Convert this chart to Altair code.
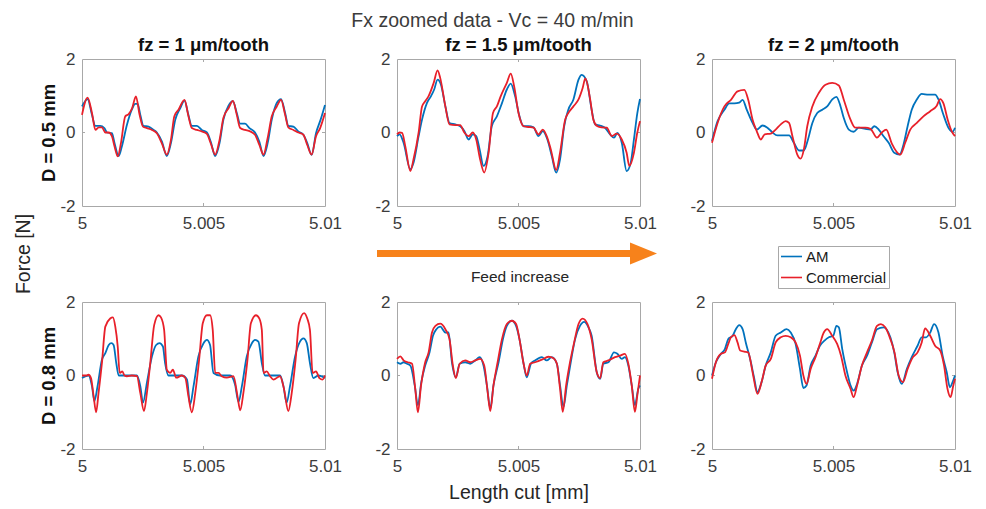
import altair as alt
import pandas as pd

# ---------------- data ----------------
series_names = ["AM", "Commercial"]
series_colors = ["#0072BD", "#E8202A"]

x_ticks = [5.0, 5.005, 5.01]
y_ticks = [-2, 0, 2]
col_titles = ["fz = 1 \u03bcm/tooth", "fz = 1.5 \u03bcm/tooth", "fz = 2 \u03bcm/tooth"]
row_titles = ["D = 0.5 mm", "D = 0.8 mm"]

# D = 0.5 mm, fz = 1
p1_am_x = [5.0, 5.00023, 5.00041, 5.00055, 5.00075, 5.00092, 5.00103, 5.00123, 5.00134, 5.00151, 5.00164, 5.00185, 5.00205, 5.00219, 5.00229, 5.0024, 5.00253, 5.00274, 5.00295, 5.00308, 5.00329, 5.00349, 5.00366, 5.00384, 5.00404, 5.00422, 5.00436, 5.00452, 5.00473, 5.00493, 5.00514, 5.0053, 5.00548, 5.00566, 5.00582, 5.00603, 5.00621, 5.00637, 5.00651, 5.00671, 5.00689, 5.00712, 5.0073, 5.00747, 5.00764, 5.00781, 5.00801, 5.00819, 5.00836, 5.00849, 5.0087, 5.0089, 5.00911, 5.00927, 5.00945, 5.00963, 5.00982, 5.01]
p1_am_y = [0.71, 0.91, 0.48, 0.18, 0.18, 0.12, 0, -0.02, -0.29, -0.64, -0.38, 0.21, 0.62, 0.78, 0.78, 0.48, 0.18, 0.16, 0.07, 0, -0.25, -0.64, -0.29, 0.35, 0.66, 0.87, 0.53, 0.18, 0.18, 0.07, 0, -0.25, -0.64, -0.29, 0.35, 0.73, 0.85, 0.53, 0.24, 0.24, 0.12, 0, -0.25, -0.64, -0.29, 0.35, 0.8, 0.91, 0.53, 0.18, 0.16, 0.03, -0.06, -0.29, -0.61, -0.02, 0.35, 0.75]
p1_cm_x = [5.0, 5.00023, 5.00041, 5.00055, 5.00069, 5.00082, 5.00096, 5.0011, 5.00123, 5.00134, 5.00147, 5.0016, 5.00178, 5.00192, 5.00206, 5.00222, 5.00237, 5.00251, 5.00267, 5.00288, 5.00308, 5.00329, 5.00349, 5.00366, 5.0038, 5.00397, 5.00422, 5.00438, 5.00452, 5.00473, 5.00493, 5.00514, 5.0053, 5.00548, 5.00566, 5.00582, 5.00603, 5.00621, 5.00637, 5.00651, 5.00671, 5.00692, 5.00712, 5.0073, 5.00747, 5.00764, 5.00781, 5.00801, 5.00819, 5.00836, 5.00849, 5.0087, 5.0089, 5.00911, 5.00927, 5.00945, 5.00963, 5.0098, 5.01]
p1_cm_y = [0.48, 0.95, 0.53, 0.07, 0.14, 0.14, 0.0, 0.0, -0.1, -0.38, -0.65, -0.3, 0.44, 0.5, 0.66, 0.98, 0.48, 0.16, 0.12, 0.07, -0.02, -0.3, -0.6, -0.2, 0.44, 0.62, 0.89, 0.44, 0.12, 0.07, 0.03, -0.04, -0.3, -0.6, -0.2, 0.4, 0.66, 0.86, 0.48, 0.12, 0.07, 0.03, -0.06, -0.34, -0.6, -0.15, 0.44, 0.7, 0.89, 0.48, 0.14, 0.07, 0.0, -0.06, -0.34, -0.6, -0.1, 0.12, 0.53]

# D = 0.5 mm, fz = 1.5
p2_am_x = [5.0, 5.00011, 5.00027, 5.00055, 5.00068, 5.00089, 5.00103, 5.00123, 5.0014, 5.00153, 5.00167, 5.00181, 5.00199, 5.00216, 5.0024, 5.0026, 5.00277, 5.00295, 5.00312, 5.00326, 5.0034, 5.00356, 5.00373, 5.0039, 5.00411, 5.00432, 5.00452, 5.00468, 5.00486, 5.00504, 5.00521, 5.00541, 5.00562, 5.00582, 5.006, 5.00619, 5.00637, 5.00655, 5.00671, 5.00688, 5.00705, 5.00726, 5.00747, 5.0076, 5.00781, 5.00801, 5.00815, 5.00836, 5.00856, 5.00877, 5.00893, 5.00907, 5.00925, 5.00945, 5.00962, 5.00975, 5.00989, 5.01]
p2_am_y = [-0.1, -0.05, -0.28, -1.0, -0.82, -0.1, 0.35, 0.8, 0.99, 1.17, 1.44, 1.3, 0.71, 0.26, 0.22, 0.17, 0.04, -0.19, -0.05, -0.1, -0.46, -0.91, -0.64, 0.17, 0.44, 0.8, 1.17, 1.33, 0.99, 0.44, 0.17, 0.17, 0.14, -0.1, 0.04, -0.19, -0.64, -1.09, -0.73, 0.17, 0.62, 0.9, 1.44, 1.57, 1.39, 0.62, 0.22, 0.19, 0.13, -0.05, -0.14, -0.01, -0.28, -1.05, -0.82, -0.19, 0.53, 0.91]
p2_cm_x = [5.0, 5.00011, 5.00021, 5.00034, 5.00055, 5.00068, 5.00089, 5.00103, 5.00116, 5.0013, 5.00151, 5.00167, 5.00178, 5.00199, 5.00216, 5.0024, 5.0026, 5.00277, 5.00295, 5.00312, 5.00326, 5.00342, 5.00359, 5.00377, 5.00395, 5.00411, 5.00427, 5.00452, 5.00468, 5.00482, 5.005, 5.00521, 5.00541, 5.00562, 5.00582, 5.006, 5.00616, 5.00633, 5.00655, 5.00671, 5.00692, 5.00705, 5.00726, 5.00747, 5.00764, 5.00775, 5.00795, 5.00808, 5.00825, 5.00842, 5.00863, 5.00884, 5.00904, 5.00925, 5.00945, 5.00956, 5.00975, 5.00989, 5.01]
p2_cm_y = [-0.05, 0.0, -0.01, -0.37, -1.05, -0.73, 0.0, 0.71, 0.85, 0.99, 1.35, 1.69, 1.48, 0.71, 0.22, 0.2, 0.2, 0.0, -0.1, 0.0, -0.19, -0.73, -1.09, -0.55, 0.53, 0.71, 0.99, 1.35, 1.6, 1.26, 0.53, 0.17, 0.15, 0.13, -0.05, 0.08, -0.1, -0.46, -1.02, -0.55, 0.35, 0.53, 0.71, 0.9, 1.21, 1.47, 0.9, 0.35, 0.17, 0.14, 0.13, -0.1, -0.03, -0.19, -0.55, -0.91, -0.55, 0.0, 0.31]

# D = 0.5 mm, fz = 2
p3_am_x = [5.0, 5.00023, 5.00051, 5.00071, 5.00092, 5.00112, 5.00126, 5.00143, 5.00167, 5.00184, 5.00208, 5.00228, 5.00249, 5.00269, 5.00296, 5.00317, 5.00337, 5.00358, 5.00378, 5.00395, 5.00413, 5.00433, 5.00454, 5.00474, 5.00495, 5.00512, 5.00529, 5.00542, 5.00563, 5.00583, 5.00604, 5.00631, 5.00652, 5.00668, 5.00686, 5.00706, 5.00727, 5.0075, 5.00772, 5.00788, 5.00805, 5.00822, 5.00843, 5.00863, 5.00891, 5.00918, 5.00932, 5.00952, 5.00973, 5.0099, 5.01]
p3_am_y = [-0.23, 0.31, 0.62, 0.79, 0.79, 0.81, 0.89, 0.62, 0.26, 0.08, 0.19, 0.13, 0.0, -0.08, -0.08, -0.08, -0.28, -0.49, -0.49, -0.19, 0.26, 0.53, 0.62, 0.71, 0.9, 0.97, 0.71, 0.4, 0.08, 0.02, 0.13, 0.1, 0.08, 0.17, 0.08, -0.1, -0.28, -0.55, -0.6, -0.33, 0.17, 0.62, 0.9, 1.05, 1.03, 1.03, 0.9, 0.49, 0.13, 0.02, 0.13]
p3_cm_x = [5.0, 5.00023, 5.00051, 5.00078, 5.00105, 5.00133, 5.00149, 5.00167, 5.00184, 5.00201, 5.00217, 5.00242, 5.00262, 5.00283, 5.00303, 5.00317, 5.00331, 5.00351, 5.00365, 5.00378, 5.00392, 5.00413, 5.0044, 5.00467, 5.00495, 5.00522, 5.00542, 5.0057, 5.0059, 5.00611, 5.00631, 5.00652, 5.00679, 5.00699, 5.00717, 5.0074, 5.00775, 5.00795, 5.00816, 5.00843, 5.0087, 5.00898, 5.00925, 5.00939, 5.00952, 5.0097, 5.00986, 5.01]
p3_cm_y = [-0.28, 0.26, 0.71, 0.89, 1.12, 1.16, 0.89, 0.35, 0.04, -0.19, -0.05, -0.03, 0.08, 0.22, 0.31, 0.26, -0.1, -0.6, -0.71, -0.46, 0.17, 0.71, 1.08, 1.3, 1.35, 1.28, 0.9, 0.35, 0.13, 0.13, 0.13, 0.1, -0.14, 0.0, 0.08, -0.3, -0.6, -0.28, 0.08, 0.26, 0.44, 0.58, 0.73, 0.91, 0.8, 0.35, 0.04, -0.1]

# D = 0.8 mm, fz = 1
p4_am_x = [5.0, 5.00027, 5.00041, 5.00051, 5.00064, 5.00082, 5.00096, 5.0011, 5.00121, 5.0013, 5.00141, 5.00151, 5.00171, 5.00199, 5.00226, 5.0024, 5.00251, 5.00267, 5.00288, 5.00305, 5.00319, 5.00333, 5.00342, 5.00356, 5.00384, 5.00411, 5.00432, 5.00445, 5.00459, 5.00479, 5.005, 5.00514, 5.00527, 5.00541, 5.00568, 5.0061, 5.0063, 5.00644, 5.00658, 5.00678, 5.00699, 5.00712, 5.00726, 5.0074, 5.00753, 5.00788, 5.00815, 5.00829, 5.00842, 5.00856, 5.00877, 5.00897, 5.00911, 5.00925, 5.00938, 5.00952, 5.00973, 5.01]
p4_am_y = [-0.07, 0.0, -0.29, -0.7, -0.29, 0.43, 0.61, 0.83, 0.88, 0.83, 0.34, 0.0, 0.0, 0.0, 0.0, -0.29, -0.74, -0.2, 0.52, 0.83, 0.88, 0.79, 0.34, 0.0, 0.0, 0.0, -0.11, -0.79, -0.29, 0.52, 0.88, 0.97, 0.83, 0.07, 0.0, 0.0, -0.25, -0.72, -0.29, 0.52, 0.88, 0.97, 0.92, 0.34, 0.0, 0.0, 0.0, -0.29, -0.74, -0.29, 0.52, 0.92, 1.01, 0.88, 0.34, -0.07, 0.0, -0.07]
p4_cm_x = [5.0, 5.00018, 5.00027, 5.00037, 5.00048, 5.00058, 5.00068, 5.00082, 5.00096, 5.00116, 5.00127, 5.00137, 5.00147, 5.00155, 5.00166, 5.00175, 5.00185, 5.00205, 5.00226, 5.0024, 5.00255, 5.00267, 5.00281, 5.00297, 5.00315, 5.00325, 5.00338, 5.00349, 5.00363, 5.00374, 5.00388, 5.00411, 5.00425, 5.00438, 5.00452, 5.00466, 5.00482, 5.00497, 5.00514, 5.00527, 5.00538, 5.00548, 5.00562, 5.00575, 5.00596, 5.00623, 5.0064, 5.00651, 5.00664, 5.00681, 5.00695, 5.00716, 5.0073, 5.0074, 5.00747, 5.0076, 5.00774, 5.00788, 5.00815, 5.00832, 5.00849, 5.00863, 5.00879, 5.00893, 5.00914, 5.00927, 5.00938, 5.00949, 5.00963, 5.00977, 5.0099, 5.01]
p4_cm_y = [0.0, 0.0, 0.02, -0.07, -0.57, -1.0, -0.48, 0.34, 1.33, 1.55, 1.58, 1.33, 0.79, 0.07, 0.11, 0.0, -0.02, 0.0, -0.02, -0.48, -0.97, -0.48, 0.34, 1.37, 1.64, 1.58, 1.24, 0.16, 0.07, 0.16, -0.06, 0.0, -0.06, -0.57, -1.0, -0.48, 0.43, 1.42, 1.64, 1.64, 1.24, 0.07, 0.07, -0.02, -0.06, -0.02, -0.57, -0.95, -0.48, 0.43, 1.42, 1.64, 1.55, 1.24, 0.07, 0.11, -0.02, -0.11, -0.02, -0.39, -0.97, -0.48, 0.43, 1.42, 1.7, 1.55, 1.24, 0.07, 0.11, -0.07, -0.11, 0.0]

# D = 0.8 mm, fz = 1.5
p5_am_x = [5.0, 5.00014, 5.00027, 5.00041, 5.00055, 5.00073, 5.00086, 5.001, 5.00116, 5.00134, 5.00148, 5.00162, 5.00178, 5.00199, 5.00212, 5.00226, 5.00242, 5.00258, 5.00281, 5.00301, 5.00322, 5.0034, 5.00356, 5.0037, 5.00384, 5.00397, 5.00418, 5.00436, 5.00452, 5.00473, 5.0049, 5.00504, 5.00521, 5.00534, 5.00551, 5.00568, 5.00596, 5.00616, 5.00637, 5.00658, 5.00671, 5.00685, 5.00699, 5.00715, 5.00733, 5.00753, 5.0077, 5.00788, 5.00801, 5.00822, 5.00836, 5.00849, 5.0087, 5.00893, 5.00907, 5.00925, 5.00938, 5.00952, 5.00966, 5.00979, 5.00993, 5.01]
p5_am_y = [0.36, 0.32, 0.36, 0.32, 0.27, -0.27, -0.81, -0.18, 0.27, 0.63, 1.08, 1.26, 1.33, 1.17, 1.17, 0.36, -0.05, 0.32, 0.36, 0.32, 0.41, 0.5, 0.27, -0.27, -0.9, -0.27, 0.36, 0.99, 1.35, 1.49, 1.35, 0.99, 0.32, -0.05, 0.32, 0.41, 0.5, 0.41, 0.5, 0.32, -0.27, -0.86, -0.27, 0.36, 0.99, 1.35, 1.46, 1.31, 1.08, 0.09, -0.09, 0.32, 0.36, 0.63, 0.59, 0.45, 0.5, 0.27, -0.27, -0.81, -0.36, -0.27]
p5_cm_x = [5.0, 5.00014, 5.00027, 5.00044, 5.00062, 5.00075, 5.00086, 5.00099, 5.00116, 5.0013, 5.00144, 5.00158, 5.00178, 5.00199, 5.00216, 5.0023, 5.00242, 5.00258, 5.00281, 5.00301, 5.00322, 5.00342, 5.00359, 5.00373, 5.00384, 5.00397, 5.00414, 5.00432, 5.00452, 5.00473, 5.0049, 5.00504, 5.00521, 5.00534, 5.00548, 5.00568, 5.00596, 5.00623, 5.00644, 5.00658, 5.00671, 5.00682, 5.00696, 5.00712, 5.00729, 5.00747, 5.00764, 5.00784, 5.00801, 5.00822, 5.00836, 5.00849, 5.0087, 5.00897, 5.00918, 5.00938, 5.00952, 5.00966, 5.00979, 5.00989, 5.01]
p5_cm_y = [0.45, 0.52, 0.41, 0.36, 0.32, -0.36, -1.0, -0.27, 0.36, 0.63, 1.17, 1.35, 1.41, 1.26, 0.99, 0.27, -0.07, 0.32, 0.41, 0.36, 0.41, 0.45, 0.27, -0.45, -0.97, -0.27, 0.36, 0.99, 1.4, 1.49, 1.4, 0.99, 0.32, 0.0, 0.32, 0.36, 0.43, 0.51, 0.47, 0.32, -0.36, -0.99, -0.27, 0.36, 0.9, 1.4, 1.55, 1.4, 0.99, 0.09, -0.07, 0.36, 0.41, 0.5, 0.54, 0.59, 0.32, -0.27, -0.99, -0.54, 0.0]

# D = 0.8 mm, fz = 2
p6_am_x = [5.0, 5.00016, 5.00037, 5.00053, 5.00067, 5.00085, 5.00098, 5.00112, 5.00126, 5.00139, 5.0016, 5.00173, 5.00187, 5.00204, 5.00221, 5.00242, 5.00262, 5.00283, 5.00307, 5.00324, 5.00344, 5.00362, 5.00376, 5.00389, 5.00406, 5.00426, 5.00444, 5.00463, 5.00481, 5.00499, 5.00512, 5.00522, 5.00536, 5.00556, 5.0057, 5.00583, 5.00597, 5.00617, 5.00638, 5.00658, 5.00679, 5.00706, 5.00734, 5.0075, 5.00764, 5.00781, 5.00802, 5.00822, 5.00846, 5.00863, 5.00881, 5.00898, 5.00914, 5.00932, 5.00949, 5.00966, 5.00979, 5.0099, 5.01]
p6_am_y = [0.0, 0.36, 0.59, 0.72, 0.99, 1.08, 1.26, 1.37, 1.26, 0.9, 0.36, -0.05, -0.45, -0.18, 0.27, 0.63, 1.08, 1.17, 1.26, 1.17, 0.86, 0.18, -0.34, -0.27, 0.27, 0.54, 0.81, 0.95, 1.04, 1.08, 1.35, 1.31, 0.72, 0.09, -0.27, -0.41, -0.23, 0.27, 0.54, 0.9, 1.26, 1.31, 1.04, 0.63, 0.09, -0.23, 0.18, 0.5, 0.81, 1.04, 1.04, 1.17, 1.4, 1.17, 0.54, 0.09, -0.32, -0.18, 0.0]
p6_cm_x = [5.0, 5.00016, 5.00037, 5.00053, 5.00067, 5.00078, 5.00092, 5.00105, 5.00116, 5.00133, 5.00149, 5.00167, 5.00187, 5.00204, 5.00221, 5.00242, 5.00262, 5.00283, 5.00303, 5.00324, 5.00344, 5.00362, 5.00376, 5.00389, 5.00406, 5.00426, 5.00444, 5.0046, 5.00474, 5.00495, 5.00515, 5.00531, 5.00549, 5.0057, 5.00583, 5.00597, 5.00617, 5.00638, 5.00658, 5.00679, 5.00695, 5.00713, 5.00734, 5.00751, 5.00768, 5.00786, 5.00805, 5.00827, 5.00846, 5.00863, 5.00877, 5.00898, 5.00918, 5.00939, 5.00955, 5.00969, 5.00982, 5.00993, 5.01]
p6_cm_y = [-0.09, 0.36, 0.59, 0.63, 0.86, 1.04, 1.1, 0.9, 0.68, 0.65, 0.63, 0.09, -0.5, -0.18, 0.27, 0.45, 0.9, 1.04, 1.08, 1.04, 0.9, 0.54, 0.0, -0.23, 0.18, 0.5, 0.86, 1.17, 1.26, 1.08, 0.86, 0.54, 0.0, -0.36, -0.59, -0.27, 0.27, 0.63, 0.95, 1.35, 1.4, 1.31, 0.99, 0.63, 0.0, -0.18, 0.18, 0.5, 0.63, 0.9, 1.28, 1.08, 0.81, 0.68, 0.27, -0.36, -0.59, -0.27, -0.09]

main_title = "Fx zoomed data - Vc = 40 m/min"
y_label = "Force [N]"
x_label = "Length cut [mm]"
arrow_label = "Feed increase"

# ---------------- styling ----------------
FONT = "Liberation Sans"
AX = "#a8a8a8"
TXT = "#3c3c3c"
ORANGE = "#F7821B"
W, H = 243, 147
GAP_X, GAP_Y = 72, 96

color_scale = alt.Scale(domain=series_names, range=series_colors)
legend = alt.Legend(orient="none", legendX=696, legendY=187, title=None,
                    symbolType="M -1.4 0 L 1.4 0", symbolSize=225, symbolStrokeWidth=1.6,
                    symbolOffset=3, labelOffset=6,
                    labelFontSize=15, labelColor="#1a1a1a", labelFont=FONT,
                    strokeColor=AX, fillColor="white", padding=2, rowPadding=4,
                    labelLimit=200)


def panel(am_x, am_y, cm_x, cm_y, title=None, row_label=None, x_title=None, extra=()):
    df = pd.DataFrame({
        "x": am_x + cm_x,
        "y": am_y + cm_y,
        "series": [series_names[0]] * len(am_x) + [series_names[1]] * len(cm_x),
    })
    xaxis_kw = dict(values=x_ticks, labelExpr="toString(datum.value)", domain=False,
                    ticks=False, tickSize=0, grid=False, labelFlush=False,
                    labelOverlap=False, labelPadding=9, labelFontSize=17,
                    labelColor=TXT, labelFont=FONT)
    if x_title:
        xaxis_kw.update(title=x_title, titleX=W / 2, titleY=43, titleBaseline="middle",
                        titleAlign="center", titleFontSize=19.5, titleFontWeight="normal",
                        titleColor="#262626", titleFont=FONT)
    else:
        xaxis_kw.update(title=None)
    yaxis_kw = dict(values=y_ticks, labelExpr="toString(datum.value)", domain=False,
                    ticks=False, tickSize=0, grid=False, labelFlush=False,
                    labelOverlap=False, labelPadding=7, labelFontSize=17,
                    labelColor=TXT, labelFont=FONT)
    if row_label:
        yaxis_kw.update(title=row_label, titleX=-34, titleY=H / 2, titleAngle=270,
                        titleBaseline="middle", titleAlign="center", titleFontSize=18.5,
                        titleFontWeight="bold", titleColor="#111111", titleFont=FONT)
    else:
        yaxis_kw.update(title=None)
    X = alt.X("x:Q", scale=alt.Scale(domain=[5.0, 5.01], nice=False, zero=False),
              axis=alt.Axis(**xaxis_kw))
    Y = alt.Y("y:Q", scale=alt.Scale(domain=[-2, 2], nice=False), axis=alt.Axis(**yaxis_kw))

    lines = alt.Chart(df).mark_line(strokeWidth=1.8, interpolate="monotone").encode(
        x=X, y=Y,
        color=alt.Color("series:N", scale=color_scale, legend=legend),
    )
    tdf_x = pd.DataFrame({"x": [x_ticks[1]]})
    tdf_y = pd.DataFrame({"y": [y_ticks[1]]})
    t_top = alt.Chart(tdf_x).mark_rule(color=AX, strokeWidth=1).encode(x=X, y=alt.value(0), y2=alt.value(3))
    t_bot = alt.Chart(tdf_x).mark_rule(color=AX, strokeWidth=1).encode(x=X, y=alt.value(H - 3), y2=alt.value(H))
    t_lef = alt.Chart(tdf_y).mark_rule(color=AX, strokeWidth=1).encode(y=Y, x=alt.value(0), x2=alt.value(3))
    t_rig = alt.Chart(tdf_y).mark_rule(color=AX, strokeWidth=1).encode(y=Y, x=alt.value(W - 3), x2=alt.value(W))
    ch = alt.layer(t_top, t_bot, t_lef, t_rig, lines, *extra).properties(width=W, height=H)
    if title:
        ch = ch.properties(title=alt.TitleParams(title, fontSize=18.5, fontWeight="bold",
                                                 color="#111111", font=FONT, anchor="middle",
                                                 frame="group", offset=-4))
    return ch


# annotations between the two rows (positioned relative to the lower panels)
cap_df = pd.DataFrame({"t": [arrow_label]})
shaft = alt.Chart(cap_df).mark_rule(color=ORANGE, strokeWidth=7).encode(
    x=alt.value(-20), x2=alt.value(236), y=alt.value(-48.5))
head = alt.Chart(cap_df).mark_point(shape="M -1 -0.815 L 1 0 L -1 0.815 Z", filled=True,
                                    size=729, color=ORANGE, opacity=1).encode(
    x=alt.value(246.5), y=alt.value(-48.5))
caption = alt.Chart(cap_df).mark_text(fontSize=15.5, color="#262626", font=FONT).encode(
    text="t:N", x=alt.value(123), y=alt.value(-25))
force_df = pd.DataFrame({"t": [y_label]})
force = alt.Chart(force_df).mark_text(fontSize=19.5, color="#262626", font=FONT, angle=270).encode(
    text="t:N", x=alt.value(-58.5), y=alt.value(-48))

p1 = panel(p1_am_x, p1_am_y, p1_cm_x, p1_cm_y, title=col_titles[0], row_label=row_titles[0])
p2 = panel(p2_am_x, p2_am_y, p2_cm_x, p2_cm_y, title=col_titles[1])
p3 = panel(p3_am_x, p3_am_y, p3_cm_x, p3_cm_y, title=col_titles[2])
p4 = panel(p4_am_x, p4_am_y, p4_cm_x, p4_cm_y, row_label=row_titles[1], extra=(force,))
p5 = panel(p5_am_x, p5_am_y, p5_cm_x, p5_cm_y, x_title=x_label, extra=(shaft, head, caption))
p6 = panel(p6_am_x, p6_am_y, p6_cm_x, p6_cm_y)

chart = alt.concat(p1, p2, p3, p4, p5, p6, columns=3,
                   spacing={"row": GAP_Y, "column": GAP_X}, bounds="flush").properties(
    title=alt.TitleParams(main_title, fontSize=19.5, fontWeight="normal", color=TXT,
                          font=FONT, anchor="middle", offset=4),
    padding={"left": 12, "top": 10, "right": 5, "bottom": 5},
).resolve_scale(color="shared").configure(font=FONT).configure_view(
    stroke=AX, strokeWidth=1)

chart.save("out.html", embed_options={"renderer": "svg", "actions": False})
